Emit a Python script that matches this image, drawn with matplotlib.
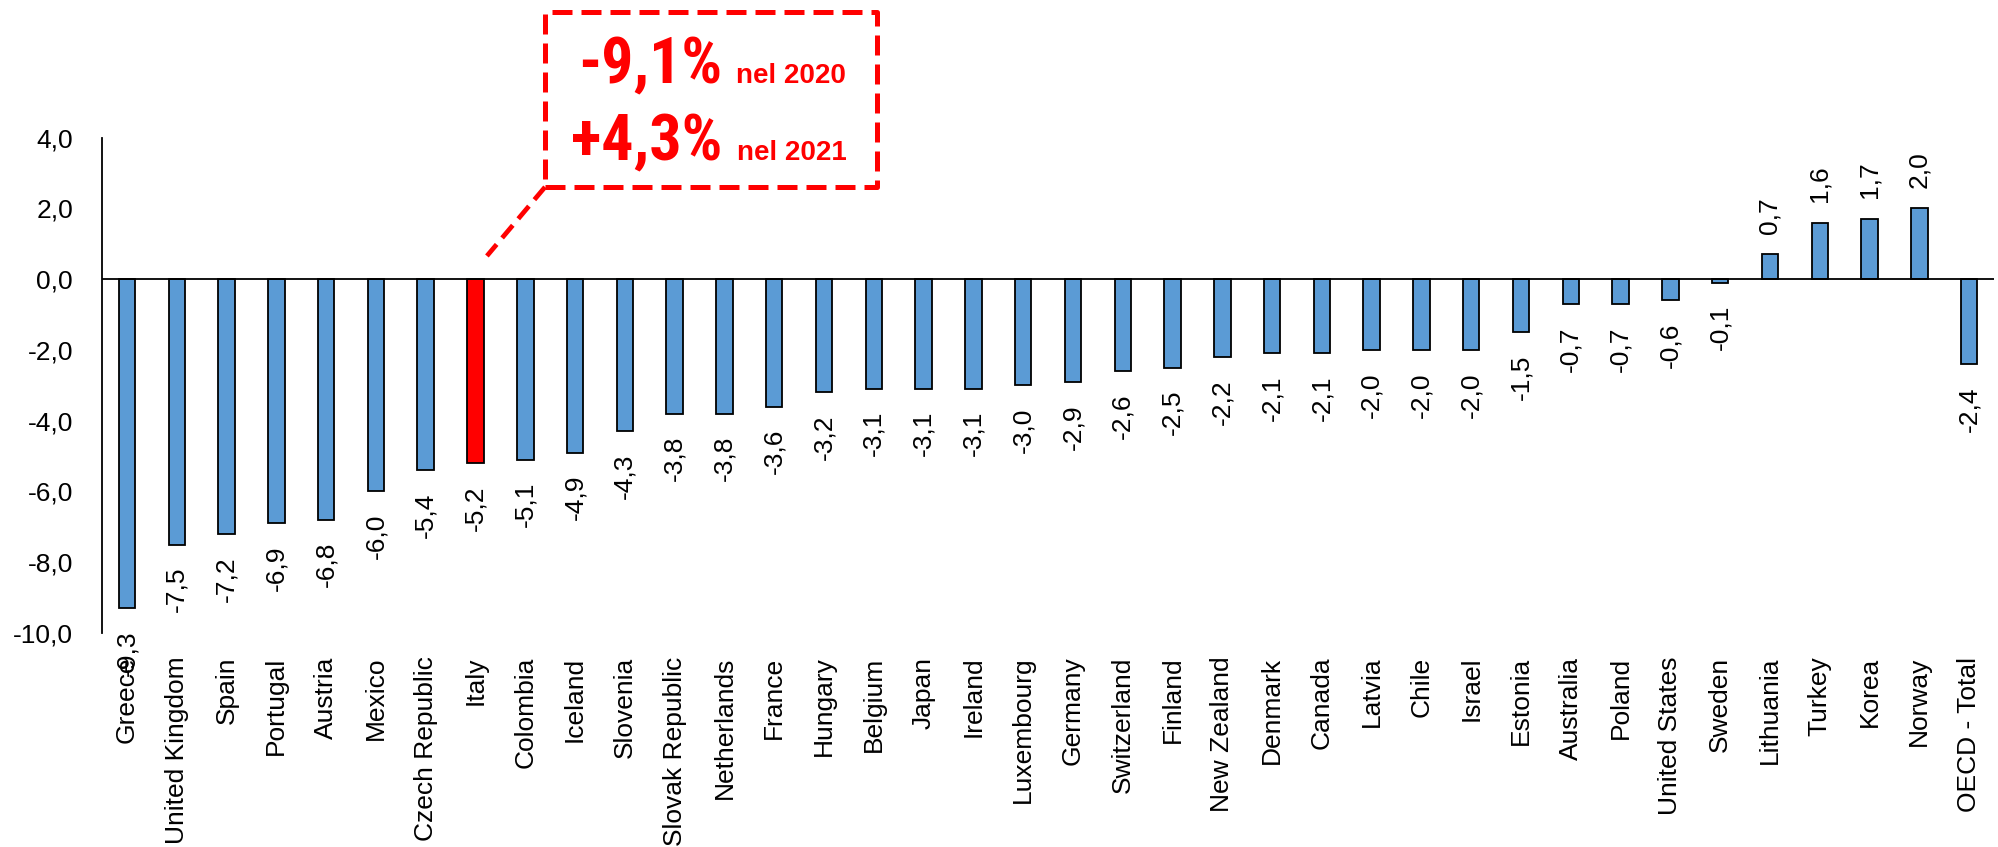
import matplotlib
matplotlib.use("Agg")
import matplotlib.pyplot as plt
from matplotlib.patches import Rectangle
from matplotlib.lines import Line2D
from matplotlib import font_manager

countries = ["Greece", "United Kingdom", "Spain", "Portugal", "Austria", "Mexico",
             "Czech Republic", "Italy", "Colombia", "Iceland", "Slovenia",
             "Slovak Republic", "Netherlands", "France", "Hungary", "Belgium",
             "Japan", "Ireland", "Luxembourg", "Germany", "Switzerland", "Finland",
             "New Zealand", "Denmark", "Canada", "Latvia", "Chile", "Israel",
             "Estonia", "Australia", "Poland", "United States", "Sweden",
             "Lithuania", "Turkey", "Korea", "Norway", "OECD - Total"]
values = [-9.3, -7.5, -7.2, -6.9, -6.8, -6.0, -5.4, -5.2, -5.1, -4.9, -4.3,
          -3.8, -3.8, -3.6, -3.2, -3.1, -3.1, -3.1, -3.0, -2.9, -2.6, -2.5,
          -2.2, -2.1, -2.1, -2.0, -2.0, -2.0, -1.5, -0.7, -0.7, -0.6, -0.1,
          0.7, 1.6, 1.7, 2.0, -2.4]
highlight = "Italy"
yticks = [-10, -8, -6, -4, -2, 0, 2, 4]
callout_lines = [("-9,1%", "nel 2020"), ("+4,3%", "nel 2021")]

blue = "#5B9BD5"
red = "#FF0000"

names = {f.name for f in font_manager.fontManager.ttflist}
narrow = None
for cand in ['Liberation Sans Narrow', 'Arial Narrow', 'Roboto Condensed']:
    if cand in names:
        narrow = cand
        break

base_fam = ['Liberation Sans', 'DejaVu Sans']
plt.rcParams['font.family'] = base_fam
fs = 19
if narrow:
    big_fam = [narrow, 'Liberation Sans']
    big_fs = 46
else:
    big_fam = base_fam
    big_fs = 40
small_fs = 20

fig = plt.figure(figsize=(19.98, 8.47), dpi=100)
ax = fig.add_axes([0.0511, 0.2527, 0.9469, 0.5848])

x = list(range(len(countries)))
colors = [red if c == highlight else blue for c in countries]
ax.bar(x, values, width=0.33, color=colors, edgecolor="black", linewidth=1.3, zorder=2)

ax.set_xlim(-0.5, len(countries) - 0.5)
ax.set_ylim(-10, 4)
ax.set_yticks(yticks)
ax.set_yticklabels([f"{v:.1f}".replace(".", ",") for v in yticks], fontsize=fs)
ax.set_xticks(x)
ax.set_xticklabels(countries, rotation=90, fontsize=fs, va="top", ha="center")
ax.tick_params(axis="y", length=0, pad=21)
ax.tick_params(axis="x", length=0, pad=17)

for s in ["top", "right", "bottom"]:
    ax.spines[s].set_visible(False)
ax.spines["left"].set_linewidth(1.3)
ax.axhline(0, color="black", linewidth=1.3, zorder=3)

for xi, v in zip(x, values):
    lab = f"{v:.1f}".replace(".", ",")
    if v >= 0:
        ax.annotate(lab, (xi, v), xytext=(0, 15), textcoords="offset points",
                    rotation=90, ha="center", va="bottom", fontsize=fs)
    else:
        ax.annotate(lab, (xi, v), xytext=(0, -16), textcoords="offset points",
                    rotation=90, ha="center", va="top", fontsize=fs)

# callout box
box = Rectangle((0.2728, 0.7792), 0.4389 - 0.2728, 0.9858 - 0.7792,
                transform=fig.transFigure, fill=False, edgecolor=red,
                linewidth=3.6, linestyle=(0, (4, 1.8)), joinstyle="round")
fig.add_artist(box)
fig.add_artist(Line2D([0.2728, 0.2437], [0.7792, 0.6978], transform=fig.transFigure,
                      color=red, linewidth=3.4, linestyle=(0, (3.5, 1.8))))

starts = [(0.2895, 1 - 83 / 847), (0.2860, 1 - 160 / 847)]
for (big, small), (sx, sy) in zip(callout_lines, starts):
    t = fig.text(sx, sy, big, color=red, fontsize=big_fs, fontweight="bold",
                 family=big_fam, ha="left", va="baseline")
    fig.add_artist(matplotlib.text.Annotation(
        small, xy=(1, sy), xycoords=(t, "figure fraction"), xytext=(10, 0),
        textcoords="offset points", color=red, fontsize=small_fs,
        fontweight="bold", ha="left", va="baseline", annotation_clip=False))

fig.savefig("out.png", dpi=100)
